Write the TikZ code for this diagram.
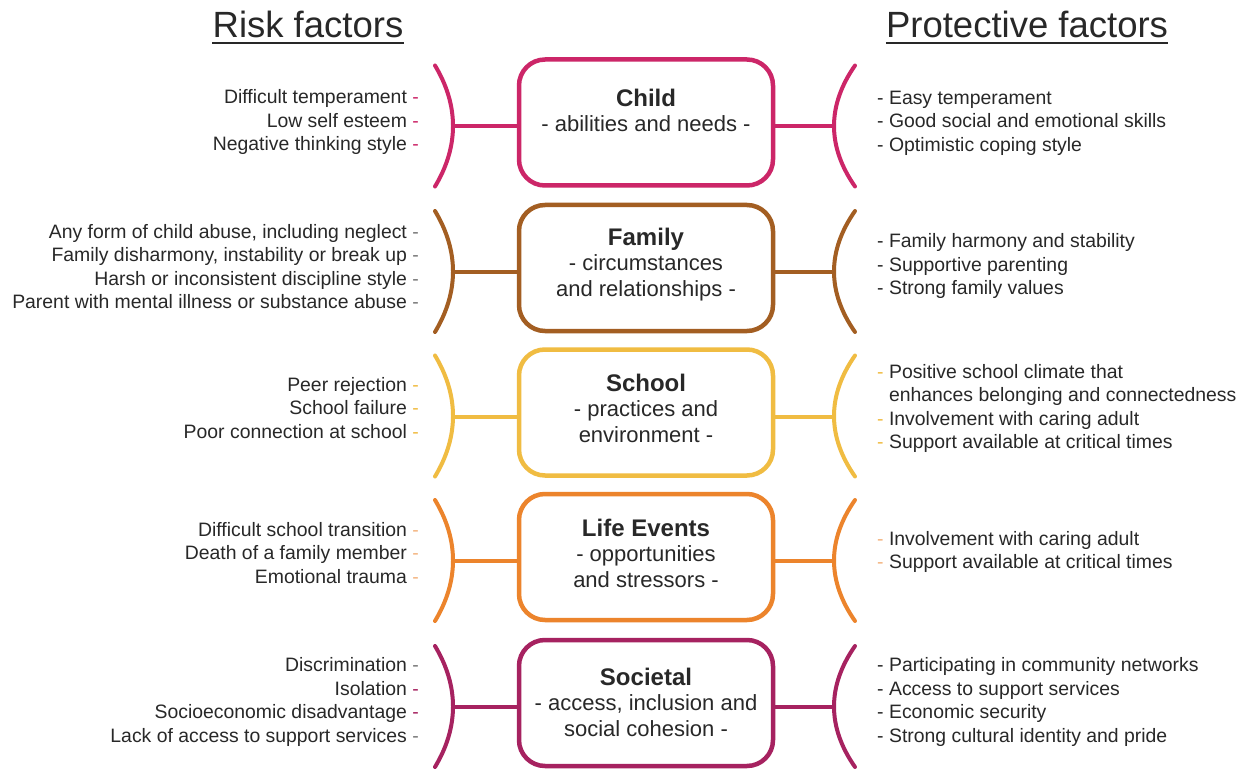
\documentclass[tikz,border=0pt]{standalone}
\usepackage{fontspec}
\setmainfont{Liberation Sans}
\definecolor{cchild}{RGB}{204,38,104}
\definecolor{cfamily}{RGB}{163,94,34}
\definecolor{cschool}{RGB}{240,188,66}
\definecolor{clife}{RGB}{236,132,44}
\definecolor{csoc}{RGB}{166,34,96}
\definecolor{txt}{RGB}{40,40,40}
\definecolor{dgrey}{RGB}{120,120,120}
\newcommand{\dsh}[1]{\textcolor{#1}{-}}
\begin{document}
\begin{tikzpicture}[x=1pt,y=-1pt,
  box/.style={draw, line width=4.5pt, rounded corners=26pt, minimum width=254pt, minimum height=126pt, inner sep=0pt},
  boxtext/.style={align=center, inner sep=0pt, text=txt, font=\fontsize{22}{25.5}\selectfont},
  riskt/.style={anchor=east, align=right, inner sep=0pt, text=txt, font=\fontsize{19.4}{23.5}\selectfont},
  prott/.style={anchor=west, align=left, inner sep=0pt, text=txt, font=\fontsize{19.4}{23.5}\selectfont},
  head/.style={inner sep=0pt, text=txt, font=\fontsize{36.5}{40}\selectfont},
  brk/.style={line width=4pt, line cap=round},
  conn/.style={line width=4pt}]
\useasboundingbox[fill=white] (0,0) rectangle (1242,770);

% headings
\node[head, anchor=base] (riskh) at (308,38) {Risk factors};
\node[head, anchor=base] (proth) at (1027,38) {Protective factors};
\draw[txt, line width=2pt] ([yshift=-5pt]riskh.base west) -- ([yshift=-5pt]riskh.base east);
\draw[txt, line width=2pt] ([yshift=-5pt]proth.base west) -- ([yshift=-5pt]proth.base east);

% boxes, brackets and connectors
\foreach \n/\c/\y in {child/cchild/122.5, family/cfamily/268, school/cschool/412.5, life/clife/557, soc/csoc/703} {
  \node[box, draw=\c] (\n) at (646,\y) {};
  \coordinate (\n-lt) at (435,\y-57);
  \coordinate (\n-lm) at (453,\y+4);
  \coordinate (\n-lb) at (435,\y+64);
  \coordinate (\n-rt) at (855,\y-57);
  \coordinate (\n-rm) at (833,\y+4);
  \coordinate (\n-rb) at (855,\y+64);
  \draw[brk, \c] (\n-lt) .. controls (459,\y-17) and (459,\y+24) .. (\n-lb);
  \draw[brk, \c] (\n-rt) .. controls (827,\y-17) and (827,\y+24) .. (\n-rb);
  \draw[conn, \c] (\n-lm) -- (\n-lm -| \n.west);
  \draw[conn, \c] (\n-rm) -- (\n-rm -| \n.east);
}

% box texts
\node[boxtext] (childt) at (646,110.5) {{\fontsize{24}{26}\selectfont\bfseries Child}\\- abilities and needs -};
\node[boxtext] (familyt) at (646,264.3) {{\fontsize{24}{26}\selectfont\bfseries Family}\\- circumstances\\and relationships -};
\node[boxtext] (schoolt) at (646,408) {{\fontsize{24}{26}\selectfont\bfseries School}\\- practices and\\environment -};
\node[boxtext] (lifet) at (646,553) {{\fontsize{24}{26}\selectfont\bfseries Life Events}\\- opportunities\\and stressors -};
\node[boxtext] (soct) at (646,702.3) {{\fontsize{24}{26}\selectfont\bfseries Societal}\\- access, inclusion and\\social cohesion -};

% risk factors
\node[riskt] (childr) at (419,122) {Difficult temperament \dsh{cchild}\\Low self esteem \dsh{cchild}\\Negative thinking style \dsh{cchild}};
\node[riskt] (familyr) at (419,266.5) {Any form of child abuse, including neglect \dsh{dgrey}\\Family disharmony, instability or break up \dsh{dgrey}\\Harsh or inconsistent discipline style \dsh{dgrey}\\Parent with mental illness or substance abuse \dsh{dgrey}};
\node[riskt] (schoolr) at (419,408) {Peer rejection \dsh{cschool}\\School failure \dsh{cschool}\\Poor connection at school \dsh{cschool}};
\node[riskt] (lifer) at (419,553) {Difficult school transition \dsh{clife!60}\\Death of a family member \dsh{clife!60}\\Emotional trauma \dsh{clife!60}};
\node[riskt] (socr) at (419,702) {Discrimination \dsh{dgrey}\\Isolation \dsh{csoc}\\Socioeconomic disadvantage \dsh{csoc}\\Lack of access to support services \dsh{dgrey}};

% protective factors
\node[prott] (childp) at (877,123) {\dsh{txt} Easy temperament\\\dsh{txt} Good social and emotional skills\\\dsh{txt} Optimistic coping style};
\node[prott] (familyp) at (877,266) {\dsh{txt} Family harmony and stability\\\dsh{txt} Supportive parenting\\\dsh{txt} Strong family values};
\node[prott] (schoolp) at (877,408.5) {\dsh{cschool} Positive school climate that\\\phantom{- }enhances belonging and connectedness\\\dsh{cschool} Involvement with caring adult\\\dsh{cschool} Support available at critical times};
\node[prott] (lifep) at (877,552) {\dsh{clife!60} Involvement with caring adult\\\dsh{clife!60} Support available at critical times};
\node[prott] (socp) at (877,702) {\dsh{txt} Participating in community networks\\\dsh{txt} Access to support services\\\dsh{txt} Economic security\\\dsh{txt} Strong cultural identity and pride};
\end{tikzpicture}
\end{document}
